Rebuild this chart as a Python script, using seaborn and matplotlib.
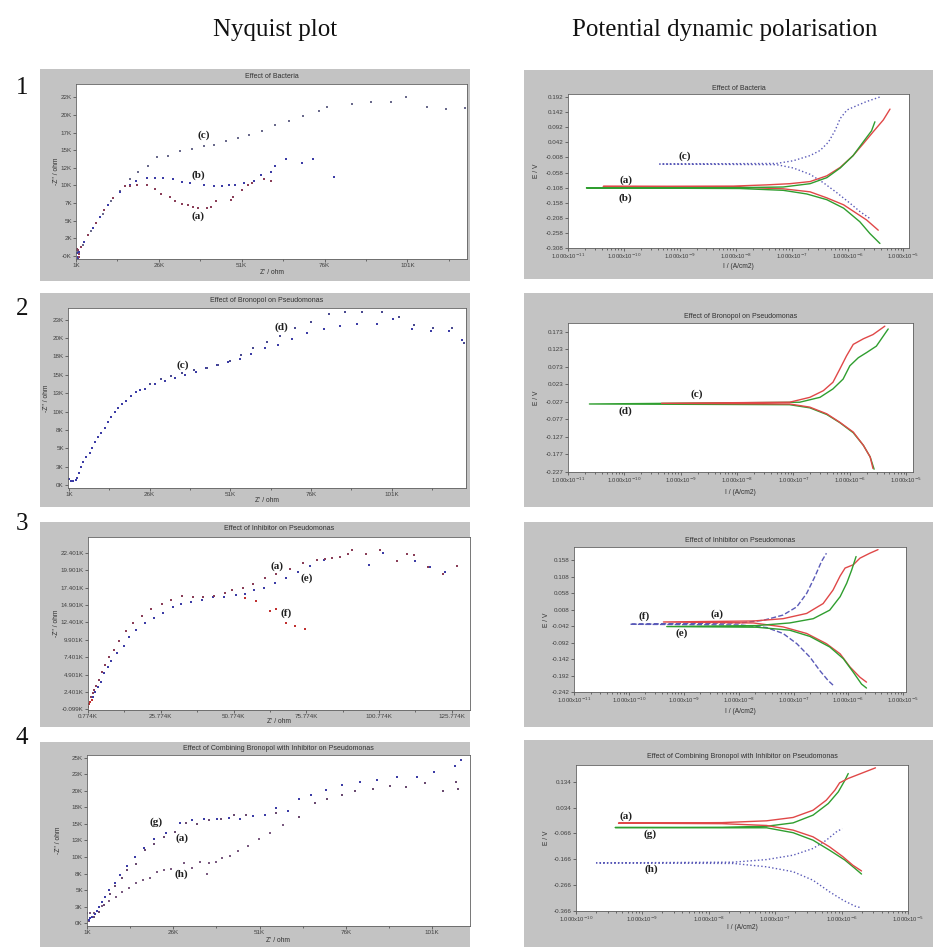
import numpy as np
import matplotlib
matplotlib.use("Agg")
import matplotlib.pyplot as plt
from matplotlib.patches import Rectangle
from matplotlib.ticker import FixedLocator, LogLocator, NullFormatter
import seaborn as sns

sns.set_theme(style="white")
plt.rcParams['font.family'] = ['Liberation Sans', 'DejaVu Sans']

# ---------------- Nyquist data (Z' and -Z'' in kOhm) ----------------
# 1: Effect of Bacteria
bact_a_zre = [1.0, 1.3, 1.6, 1.8, 1.9, 2.5, 4.5, 7.1, 9.6, 12.1, 15.7, 17.2, 19.4, 22.3, 24.8, 26.8,
              29.3, 30.9, 32.9, 34.9, 36.4, 37.9, 40.5, 41.8, 43.3, 47.9, 48.4, 51.1, 52.8, 54.1, 57.7, 59.7]
bact_a_zim = [0.9, 1.0, 0.8, 0.3, -0.2, 1.3, 3.0, 4.7, 6.5, 8.2, 9.9, 9.9, 10.0, 10.0, 9.5, 8.8,
              8.3, 7.8, 7.4, 7.2, 7.0, 6.8, 6.8, 7.0, 7.8, 7.9, 8.4, 9.3, 10.0, 10.3, 10.9, 10.7]
bact_b_zre = [1.2, 1.6, 1.7, 2.0, 3.5, 6.1, 8.1, 10.6, 14.2, 17.2, 19.2, 22.3, 24.8, 27.3, 30.4, 32.9,
              35.4, 39.5, 42.5, 45.0, 47.1, 49.1, 51.6, 54.6, 56.7, 59.7, 61.0, 64.3, 69.3, 72.4, 78.9]
bact_b_zim = [0.4, -0.1, -0.3, 0.5, 2.0, 3.9, 5.6, 7.3, 9.1, 10.0, 10.7, 11.0, 11.1, 11.1, 10.9, 10.5,
              10.3, 10.0, 9.9, 9.9, 10.0, 10.0, 10.3, 10.7, 11.5, 11.9, 12.8, 13.8, 13.2, 13.8, 11.2]
bact_c_zre = [1.5, 3.0, 5.5, 9.0, 11.5, 14.2, 17.2, 19.7, 22.8, 25.3, 28.8, 32.4, 35.9, 39.5, 42.7, 46.2,
              49.8, 53.3, 57.2, 61.2, 65.3, 69.5, 74.2, 76.7, 84.2, 89.9, 96.1, 100.7, 106.8, 112.8, 118.4]
bact_c_zim = [0.6, 1.6, 3.5, 6.0, 7.8, 9.2, 10.9, 11.9, 12.8, 14.1, 14.2, 14.9, 15.2, 15.6, 15.8, 16.3,
              16.7, 17.2, 17.8, 18.6, 19.1, 19.8, 20.6, 21.2, 21.5, 21.9, 21.9, 22.6, 21.2, 20.9, 21.0]

# 2: Effect of Bronopol on Pseudomonas
bron_c_zre = [1.0, 1.7, 2.4, 3.1, 3.5, 4.1, 4.8, 5.5, 6.4, 7.4, 8.2, 9.2, 10.1, 11.0, 12.1, 13.1, 14.1,
              15.2, 16.3, 17.5, 18.8, 20.1, 21.7, 23.1, 24.5, 27.5, 30.6, 34.0, 37.1, 40.3, 43.3, 46.9,
              50.3, 53.9, 57.5, 61.7, 65.8, 70.2, 74.6, 79.9, 84.9, 90.3, 96.5, 101.4, 107.4, 113.3, 118.8, 122.8]
bron_c_zim = [0.8, 0.6, 0.6, 0.7, 1.0, 1.7, 2.4, 3.1, 3.8, 4.4, 5.1, 5.8, 6.5, 7.1, 7.8, 8.6, 9.3,
              10.0, 10.5, 11.1, 11.5, 12.1, 12.6, 13.0, 13.1, 13.7, 14.2, 14.6, 15.0, 15.4, 15.9, 16.3,
              16.8, 17.2, 17.8, 18.6, 19.1, 19.9, 20.7, 21.2, 21.6, 21.9, 21.9, 22.6, 21.2, 21.0, 21.0, 19.8]
bron_d_zre = [26.0, 29.4, 32.7, 36.0, 39.6, 43.8, 47.3, 50.8, 54.3, 58.0, 62.2, 66.3, 70.9, 75.9, 81.5,
              86.6, 91.9, 97.9, 103.3, 107.9, 113.8, 119.8, 123.4]
bron_d_zim = [13.7, 14.4, 14.8, 15.3, 15.7, 15.9, 16.3, 16.9, 17.7, 18.6, 19.5, 20.3, 21.4, 22.2, 23.3,
              23.6, 23.5, 23.5, 22.9, 21.8, 21.4, 21.4, 19.3]

# 3: Effect of Inhibitor on Pseudomonas
inh_a_zre = [1.8, 2.4, 3.0, 3.5, 4.7, 5.6, 6.7, 8.1, 9.8, 11.5, 13.8, 16.4, 19.4, 22.4, 26.1, 29.3, 33.1,
             36.8, 40.2, 44.0, 47.9, 50.2, 54.0, 57.4, 61.7, 65.5, 70.0, 74.6, 79.4, 82.1, 84.6, 87.2,
             90.1, 91.6, 96.4, 101.0, 107.0, 110.2, 112.7, 117.6, 122.8, 127.4]
inh_a_zim = [1.7, 2.2, 2.7, 3.2, 4.1, 5.2, 6.3, 7.4, 8.4, 9.8, 11.1, 12.3, 13.3, 14.3, 15.1, 15.6, 16.2,
             16.0, 16.1, 16.2, 16.6, 17.0, 17.4, 18.0, 18.8, 19.4, 20.1, 20.9, 21.4, 21.6, 21.7, 21.8,
             22.2, 22.9, 22.2, 22.8, 21.3, 22.2, 22.1, 20.4, 19.4, 20.5]
inh_e_zre = [2.4, 3.3, 4.1, 5.2, 6.4, 7.5, 8.7, 10.6, 13.0, 15.0, 17.3, 20.2, 23.3, 26.7, 29.9, 32.8,
             36.2, 39.9, 43.7, 47.4, 51.5, 54.6, 57.7, 61.4, 65.1, 68.9, 73.0, 77.2, 81.9, 97.2, 102.2,
             113.0, 118.2, 123.4, 127.6]
inh_e_zim = [1.7, 2.4, 3.1, 3.9, 5.1, 6.0, 6.9, 8.0, 9.0, 10.3, 11.3, 12.3, 13.1, 13.8, 14.6, 15.0,
             15.4, 15.7, 16.0, 16.0, 16.3, 16.5, 17.0, 17.4, 18.1, 18.8, 19.7, 20.5, 21.4, 20.7, 22.4,
             21.2, 20.4, 19.7, 20.5]
inh_f_zre = [0.9, 1.2, 1.6, 2.1, 54.6, 58.6, 63.2, 65.2, 68.9, 71.8, 75.2]
inh_f_zim = [0.2, 0.6, 1.0, 1.3, 15.9, 15.5, 14.0, 14.4, 12.3, 11.9, 11.5]

# 4: Effect of Combining Bronopol with Inhibitor on Pseudomonas
comb_g_zre = [1.5, 2.0, 2.5, 3.2, 3.9, 4.6, 5.4, 6.1, 7.3, 9.1, 10.7, 12.5, 14.9, 17.5, 20.4, 23.8, 27.9,
              31.4, 35.0, 38.7, 42.1, 45.4, 49.1, 52.5, 55.9, 59.3, 62.5, 66.0, 70.4, 74.8, 80.1, 85.0,
              90.8, 96.6, 101.7, 107.6, 109.4]
comb_g_zim = [0.5, 0.8, 1.0, 1.4, 1.8, 2.5, 3.2, 4.0, 5.1, 6.1, 7.3, 8.6, 10.0, 11.3, 12.7, 13.7, 15.1,
              15.6, 15.8, 15.8, 15.9, 15.8, 16.2, 16.4, 17.4, 17.0, 18.7, 19.3, 20.1, 20.9, 21.4, 21.6,
              22.1, 22.1, 22.8, 23.7, 24.6]
comb_a_zre = [1.5, 2.9, 4.4, 5.9, 7.6, 9.1, 11.2, 12.7, 15.3, 17.9, 20.3, 23.3, 26.4, 29.6, 32.8, 36.4,
              39.8, 43.7, 47.1, 52.5, 55.9, 62.5, 67.0, 70.6, 75.0, 78.7, 84.0, 88.7, 93.5, 99.1, 104.2,
              107.8, 108.5]
comb_a_zim = [0.4, 1.0, 1.7, 2.8, 4.5, 5.7, 6.8, 8.1, 8.9, 11.0, 12.0, 13.0, 13.8, 15.2, 15.0, 15.6,
              15.8, 16.3, 16.3, 16.3, 16.7, 16.0, 18.1, 18.7, 19.4, 19.9, 20.3, 20.7, 20.5, 21.1, 19.9,
              21.3, 20.3]
comb_h_zre = [1.0, 2.0, 2.9, 3.9, 5.4, 7.3, 9.3, 11.2, 13.1, 15.1, 17.2, 19.4, 21.4, 23.3, 25.3, 29.2,
              31.4, 33.7, 35.7, 36.4, 38.4, 40.1, 42.3, 44.7, 47.6, 50.8, 54.1, 57.8]
comb_h_zim = [1.6, 1.6, 1.6, 1.8, 2.6, 3.3, 4.0, 4.7, 5.3, 6.1, 6.6, 6.9, 7.8, 8.0, 8.2, 9.1,
              8.3, 9.3, 7.4, 9.1, 9.2, 9.8, 10.2, 10.9, 11.7, 12.8, 13.6, 14.8]

# ---------------- Polarisation data (log10 of I in A/cm2, E in V) ----------------
# cathodic end -> corrosion potential plateau -> anodic end
pol1_a_logi = [-5.45, -5.66, -5.84, -6.07, -6.37, -6.67, -7.15, -8.04, -10.37, -8.04, -7.45, -7.03,
               -6.67, -6.37, -6.13, -5.90, -5.72, -5.54, -5.36, -5.24]
pol1_a_e = [-0.249, -0.215, -0.193, -0.165, -0.142, -0.122, -0.112, -0.106, -0.104, -0.103, -0.099,
            -0.095, -0.088, -0.069, -0.041, -0.002, 0.037, 0.077, 0.116, 0.152]
pol1_b_logi = [-5.42, -5.60, -5.78, -6.07, -6.37, -6.73, -7.15, -7.93, -10.67, -7.93, -7.15, -6.67,
               -6.37, -6.13, -5.90, -5.72, -5.57, -5.51]
pol1_b_e = [-0.293, -0.260, -0.221, -0.176, -0.148, -0.129, -0.117, -0.111, -0.109, -0.108, -0.106,
            -0.095, -0.075, -0.043, -0.002, 0.043, 0.080, 0.110]
pol1_c_logi = [-5.61, -5.78, -5.96, -6.19, -6.43, -6.67, -6.97, -7.27, -9.36, -7.27, -6.97, -6.67,
               -6.49, -6.34, -6.22, -6.13, -6.01, -5.84, -5.66, -5.39]
pol1_c_e = [-0.209, -0.187, -0.159, -0.125, -0.092, -0.064, -0.043, -0.032, -0.030, -0.028, -0.019,
            -0.002, 0.015, 0.043, 0.082, 0.121, 0.149, 0.163, 0.177, 0.194]

pol2_c_logi = [-5.59, -5.64, -5.76, -5.94, -6.18, -6.41, -6.71, -7.07, -9.34, -7.07, -6.71, -6.47,
               -6.30, -6.18, -6.06, -5.94, -5.76, -5.59, -5.38]
pol2_c_e = [-0.217, -0.184, -0.151, -0.113, -0.085, -0.061, -0.042, -0.033, -0.031, -0.028, -0.014,
            0.005, 0.029, 0.066, 0.104, 0.137, 0.153, 0.165, 0.189]
pol2_d_logi = [-5.57, -5.64, -5.76, -5.94, -6.18, -6.41, -6.71, -7.07, -10.62, -6.89, -6.53, -6.30,
               -6.12, -6.00, -5.85, -5.70, -5.53, -5.32]
pol2_d_e = [-0.219, -0.184, -0.151, -0.115, -0.086, -0.063, -0.044, -0.035, -0.033, -0.028, -0.014,
            0.010, 0.038, 0.076, 0.099, 0.114, 0.132, 0.181]

pol3_f_logi = [-6.28, -6.37, -6.52, -6.70, -6.94, -7.19, -7.49, -7.98, -9.98, -7.98, -7.55, -7.19,
               -6.94, -6.76, -6.61, -6.49, -6.40]
pol3_f_e = [-0.221, -0.207, -0.177, -0.136, -0.095, -0.064, -0.046, -0.038, -0.036, -0.032, -0.024,
            -0.008, 0.017, 0.058, 0.109, 0.155, 0.180]
pol3_a_logi = [-5.67, -5.79, -5.97, -6.15, -6.40, -6.76, -7.19, -7.73, -9.37, -7.73, -7.19, -6.76,
               -6.46, -6.28, -6.15, -6.06, -5.91, -5.79, -5.61, -5.46]
pol3_a_e = [-0.212, -0.197, -0.166, -0.126, -0.095, -0.064, -0.044, -0.032, -0.029, -0.026, -0.019,
            -0.003, 0.027, 0.068, 0.111, 0.135, 0.145, 0.165, 0.180, 0.191]
pol3_e_logi = [-5.67, -5.76, -5.91, -6.09, -6.34, -6.70, -7.07, -7.67, -9.31, -7.67, -7.07, -6.64,
               -6.34, -6.15, -6.03, -5.94, -5.86]
pol3_e_e = [-0.230, -0.218, -0.182, -0.141, -0.105, -0.073, -0.054, -0.045, -0.043, -0.040, -0.032,
            -0.019, 0.007, 0.048, 0.089, 0.129, 0.170]

pol4_a_logi = [-5.70, -5.83, -5.98, -6.18, -6.43, -6.73, -7.13, -7.80, -9.36, -7.80, -7.13, -6.73,
               -6.43, -6.23, -6.10, -6.03, -5.90, -5.73, -5.49]
pol4_a_e = [-0.211, -0.189, -0.156, -0.118, -0.079, -0.053, -0.035, -0.028, -0.026, -0.024, -0.017,
            -0.004, 0.024, 0.063, 0.102, 0.130, 0.147, 0.164, 0.188]
pol4_g_logi = [-5.70, -5.80, -5.95, -6.18, -6.43, -6.73, -7.13, -7.80, -9.41, -7.80, -7.13, -6.73,
               -6.43, -6.20, -6.05, -5.95, -5.90]
pol4_g_e = [-0.223, -0.201, -0.169, -0.131, -0.092, -0.063, -0.044, -0.044, -0.043, -0.042, -0.038,
            -0.025, 0.005, 0.050, 0.095, 0.140, 0.166]
pol4_h_logi = [-5.73, -5.80, -5.98, -6.18, -6.43, -6.73, -7.13, -7.63, -9.69, -7.63, -7.13, -6.73,
               -6.43, -6.23, -6.08, -5.99]
pol4_h_e = [-0.352, -0.347, -0.324, -0.292, -0.247, -0.214, -0.195, -0.182, -0.180, -0.177, -0.167,
            -0.150, -0.124, -0.092, -0.060, -0.047]

# ---------------- tick labels ----------------
nyq1_xticks = [1, 26, 51, 76, 101]
nyq1_xlabels = ['1K', '26K', '51K', '76K', '101K']
nyq1_yticks = [0, 2.5, 5, 7.5, 10, 12.5, 15, 17.5, 20, 22.5]
nyq1_ylabels = ['-0K', '2K', '5K', '7K', '10K', '12K', '15K', '17K', '20K', '22K']
nyq2_ylabels = ['0K', '3K', '5K', '8K', '10K', '13K', '15K', '18K', '20K', '23K']
nyq3_xticks = [0.774, 25.774, 50.774, 75.774, 100.774, 125.774]
nyq3_xlabels = ['0.774K', '25.774K', '50.774K', '75.774K', '100.774K', '125.774K']
nyq3_yticks = [-0.099, 2.401, 4.901, 7.401, 9.901, 12.401, 14.901, 17.401, 19.901, 22.401]
nyq3_ylabels = ['-0.099K', '2.401K', '4.901K', '7.401K', '9.901K', '12.401K', '14.901K',
                '17.401K', '19.901K', '22.401K']
nyq4_yticks = [0, 2.5, 5, 7.5, 10, 12.5, 15, 17.5, 20, 22.5, 25]
nyq4_ylabels = ['0K', '3K', '5K', '8K', '10K', '13K', '15K', '18K', '20K', '23K', '25K']
pol1_yticks = [0.192, 0.142, 0.092, 0.042, -0.008, -0.058, -0.108, -0.158, -0.208, -0.258, -0.308]
pol2_yticks = [0.173, 0.123, 0.073, 0.023, -0.027, -0.077, -0.127, -0.177, -0.227]
pol3_yticks = [0.158, 0.108, 0.058, 0.008, -0.042, -0.092, -0.142, -0.192, -0.242]
pol4_yticks = [0.134, 0.034, -0.066, -0.166, -0.266, -0.366]

W, H = 933, 947
fig = plt.figure(figsize=(W / 100, H / 100), dpi=100)
fig.patch.set_facecolor('white')

GRAY = '#c3c3c3'
SERIF = ['Liberation Serif', 'DejaVu Serif']
RED, GREEN, BLUE = '#e04848', '#2f9e2f', '#5a5ab8'


def ftext(x, y, s, **kw):
    kw.setdefault('ha', 'center')
    kw.setdefault('va', 'center')
    fig.text(x / W, 1 - y / H, s, **kw)


def panel(box, rect, title, ty, xlab, xly, ylab, ylx):
    x0, y0, x1, y1 = box
    fig.add_artist(Rectangle((x0 / W, 1 - y1 / H), (x1 - x0) / W, (y1 - y0) / H,
                             transform=fig.transFigure, facecolor=GRAY, edgecolor='none', zorder=0))
    a0, b0, a1, b1 = rect
    ax = fig.add_axes([a0 / W, 1 - b1 / H, (a1 - a0) / W, (b1 - b0) / H])
    ax.set_facecolor('white')
    for sp in ax.spines.values():
        sp.set_color('#606060')
        sp.set_linewidth(0.6)
    ax.tick_params(axis='both', which='both', direction='out', labelsize=4.5, colors='#404040',
                   length=2, width=0.5, pad=1)
    ax.tick_params(which='minor', length=1.3)
    ax.tick_params(axis='both', which='both', bottom=True, left=True)
    ftext((a0 + a1) / 2, ty, title, fontsize=5, color='#303030')
    ftext((a0 + a1) / 2, xly, xlab, fontsize=4.8, color='#303030')
    ftext(ylx, (b0 + b1) / 2, ylab, fontsize=4.8, color='#303030', rotation=90)
    ax.set_xlabel('')
    ax.set_ylabel('')
    return ax


def nyq(ax, series, xlim, ylim, xt, xl, yt, yl, step):
    for zre, zim, col in series:
        sns.scatterplot(x=zre, y=zim, ax=ax, color=col, s=4, marker='s', linewidth=0, legend=False)
    ax.set_xlim(*xlim)
    ax.set_ylim(*ylim)
    ax.set_xticks(xt)
    ax.set_xticklabels(xl)
    ax.set_yticks(yt)
    ax.set_yticklabels(yl)
    ax.xaxis.set_minor_locator(FixedLocator([v + step / 2 for v in xt]))


def pol(ax, curves, xlim, ylim, dec, yt):
    for logi, e, col, ls in curves:
        sns.lineplot(x=10.0 ** np.array(logi), y=e, ax=ax, color=col, linestyle=ls,
                     linewidth=1.0, sort=False, estimator=None, legend=False)
    ax.set_xscale('log')
    ax.set_xlim(10.0 ** xlim[0], 10.0 ** xlim[1])
    ax.set_ylim(*ylim)
    ax.set_xticks([10.0 ** d for d in dec])
    ax.set_xticklabels(['1.000x10$^{%d}$' % d for d in dec])
    ax.xaxis.set_minor_locator(LogLocator(base=10, subs=np.arange(2, 10)))
    ax.xaxis.set_minor_formatter(NullFormatter())
    ax.tick_params(axis='x', which='major', labelsize=4.2, pad=0.5)
    ax.set_yticks(yt)
    ax.set_yticklabels(['%.3f' % v for v in yt])


def tag(ax, x, y, s):
    ax.text(x, y, s, fontsize=8, fontweight='bold', family=SERIF, ha='center', va='center',
            color='#202020')


# headers
ftext(275, 30, 'Nyquist plot', fontsize=18, family=SERIF, color='#111111')
ftext(725, 30, 'Potential dynamic polarisation', fontsize=18, family=SERIF, color='#111111')
for num, yy in zip(['1', '2', '3', '4'], [88, 309, 524, 738]):
    ftext(22, yy, num, fontsize=18, family=SERIF, color='#111111')

# row 1
ax = panel((40, 69, 470, 281), (76, 84, 467, 259), 'Effect of Bacteria', 77,
           "Z' / ohm", 272, "-Z'' / ohm", 57)
nyq(ax, [(bact_c_zre, bact_c_zim, '#6a6a8c'), (bact_b_zre, bact_b_zim, '#3c3ca6'),
         (bact_a_zre, bact_a_zim, '#8a3e58')],
    (1, 119), (-0.43, 24.4), nyq1_xticks, nyq1_xlabels, nyq1_yticks, nyq1_ylabels, 25)
tag(ax, 39.5, 17.2, '(c)')
tag(ax, 37.9, 11.4, '(b)')
tag(ax, 37.9, 5.7, '(a)')

ax = panel((524, 70, 933, 279), (568, 94, 909, 248), 'Effect of Bacteria', 89,
           'I / (A/cm2)', 266, 'E / V', 537)
pol(ax, [(pol1_c_logi, pol1_c_e, BLUE, ':'), (pol1_a_logi, pol1_a_e, RED, '-'),
         (pol1_b_logi, pol1_b_e, GREEN, '-')],
    (-11, -4.9), (-0.308, 0.202), [-11, -10, -9, -8, -7, -6, -5], pol1_yticks)
tag(ax, 10 ** -8.91, -0.005, '(c)')
tag(ax, 10 ** -9.97, -0.083, '(a)')
tag(ax, 10 ** -9.97, -0.142, '(b)')

# row 2
ax = panel((40, 293, 470, 507), (68, 308, 466, 488), 'Effect of Bronopol on Pseudomonas', 301,
           "Z' / ohm", 500, "-Z'' / ohm", 47)
nyq(ax, [(bron_c_zre, bron_c_zim, '#3c3ca6'), (bron_d_zre, bron_d_zim, '#4a4a90')],
    (0.7, 124), (-0.4, 24.1), nyq1_xticks, nyq1_xlabels, nyq1_yticks, nyq2_ylabels, 25)
tag(ax, 36.3, 16.3, '(c)')
tag(ax, 66.8, 21.5, '(d)')

ax = panel((524, 293, 933, 507), (568, 323, 913, 472), 'Effect of Bronopol on Pseudomonas', 317,
           'I / (A/cm2)', 492, 'E / V', 537)
pol(ax, [(pol2_d_logi, pol2_d_e, GREEN, '-'), (pol2_c_logi, pol2_c_e, RED, '-')],
    (-11, -4.88), (-0.227, 0.198), [-11, -10, -9, -8, -7, -6, -5], pol2_yticks)
tag(ax, 10 ** -8.72, -0.004, '(c)')
tag(ax, 10 ** -9.98, -0.054, '(d)')

# row 3
ax = panel((40, 522, 470, 727), (88, 537, 470, 710), 'Effect of Inhibitor on Pseudomonas', 528,
           "Z' / ohm", 721, "-Z'' / ohm", 56)
nyq(ax, [(inh_e_zre, inh_e_zim, '#3c3ca6'), (inh_a_zre, inh_a_zim, '#8a3e58'),
         (inh_f_zre, inh_f_zim, '#c03030')],
    (0.774, 132), (-0.2, 24.7), nyq3_xticks, nyq3_xlabels, nyq3_yticks, nyq3_ylabels, 25)
tag(ax, 65.7, 20.5, '(a)')
tag(ax, 76.0, 18.8, '(e)')
tag(ax, 68.9, 13.7, '(f)')

ax = panel((524, 522, 933, 727), (574, 547, 906, 692), 'Effect of Inhibitor on Pseudomonas', 540,
           'I / (A/cm2)', 711, 'E / V', 546)
pol(ax, [(pol3_f_logi, pol3_f_e, BLUE, '--'), (pol3_a_logi, pol3_a_e, RED, '-'),
         (pol3_e_logi, pol3_e_e, GREEN, '-')],
    (-11, -4.95), (-0.242, 0.199), [-11, -10, -9, -8, -7, -6, -5], pol3_yticks)
tag(ax, 10 ** -9.72, -0.011, '(f)')
tag(ax, 10 ** -8.39, -0.005, '(a)')
tag(ax, 10 ** -9.04, -0.064, '(e)')

# row 4
ax = panel((40, 742, 470, 947), (87, 755, 470, 926),
           'Effect of Combining Bronopol with Inhibitor on Pseudomonas', 748,
           "Z' / ohm", 940, "-Z'' / ohm", 59)
nyq(ax, [(comb_h_zre, comb_h_zim, '#7a5a80'), (comb_a_zre, comb_a_zim, '#6a4a70'),
         (comb_g_zre, comb_g_zim, '#3c3ca6')],
    (1, 112), (-0.4, 25.4), nyq1_xticks, nyq1_xlabels, nyq4_yticks, nyq4_ylabels, 25)
tag(ax, 20.9, 15.3, '(g)')
tag(ax, 28.5, 12.9, '(a)')
tag(ax, 28.2, 7.4, '(h)')

ax = panel((524, 740, 933, 947), (576, 765, 908, 911),
           'Effect of Combining Bronopol with Inhibitor on Pseudomonas', 757,
           'I / (A/cm2)', 927, 'E / V', 547)
pol(ax, [(pol4_h_logi, pol4_h_e, BLUE, ':'), (pol4_g_logi, pol4_g_e, GREEN, '-'),
         (pol4_a_logi, pol4_a_e, RED, '-')],
    (-10, -5), (-0.366, 0.199), [-10, -9, -8, -7, -6, -5], pol4_yticks)
tag(ax, 10 ** -9.24, 0.001, '(a)')
tag(ax, 10 ** -8.89, -0.070, '(g)')
tag(ax, 10 ** -8.86, -0.205, '(h)')

fig.savefig('out.png', dpi=100)
